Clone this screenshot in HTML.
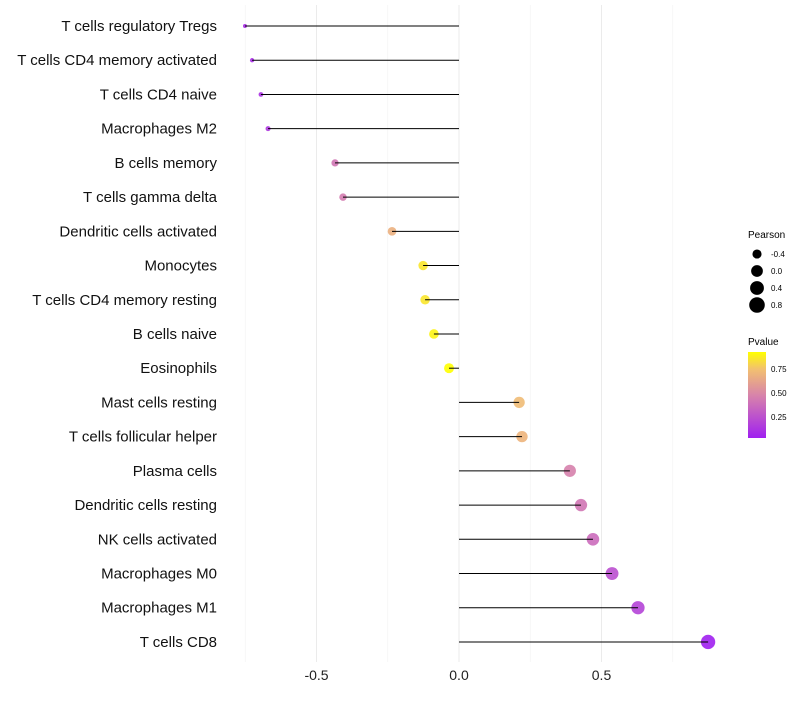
<!DOCTYPE html>
<html><head><meta charset="utf-8"><style>
body{margin:0;background:#fff;font-family:"Liberation Sans",sans-serif;}
</style></head><body>
<svg id="chart" width="800" height="700" xmlns="http://www.w3.org/2000/svg">
<g id="grid"></g>
<g id="marks"></g>
<g id="ylabels"></g>
<g id="xlabels"></g>
<g font-size="9">
<text x="748" y="238" font-size="10">Pearson</text>
<g id="sizeLegend"></g>
</g>
<g font-size="9">
<defs><linearGradient id="pg" x1="0" y1="1" x2="0" y2="0">
<stop offset="0" stop-color="#A020F0"/><stop offset="0.5" stop-color="#D884AA"/><stop offset="0.8" stop-color="#F2C070"/><stop offset="1" stop-color="#FFFF00"/></linearGradient></defs>
<text x="748" y="345" font-size="10">Pvalue</text>
<rect x="748" y="352" width="18" height="86" fill="url(#pg)"/>
<g id="pvTicks"></g>
</g>
</svg>
<script>
const categories=["T cells regulatory  Tregs","T cells CD4 memory activated","T cells CD4 naive","Macrophages M2","B cells memory","T cells gamma delta","Dendritic cells activated","Monocytes","T cells CD4 memory resting","B cells naive","Eosinophils","Mast cells resting","T cells follicular helper","Plasma cells","Dendritic cells resting","NK cells activated","Macrophages M0","Macrophages M1","T cells CD8"];
const pearson=[-0.751,-0.726,-0.695,-0.67,-0.435,-0.407,-0.235,-0.126,-0.119,-0.088,-0.035,0.211,0.221,0.389,0.428,0.47,0.537,0.628,0.874];
const pvalue=[0.1,0.1,0.12,0.15,0.42,0.45,0.68,0.86,0.86,0.9,0.93,0.73,0.7,0.47,0.42,0.38,0.25,0.2,0.04];
const xTicks=[-0.5,0,0.5];
const xTickLabels=["-0.5","0.0","0.5"];
const sizeLegendVals=[-0.4,0,0.4,0.8];
const pvTickVals=[0.25,0.5,0.75];
const NS="http://www.w3.org/2000/svg";
const X=v=>459+v*285;
const Y=i=>26+i*34.22;
const R=v=>Math.sqrt(4+29*Math.max(0,v+0.75));
const PY=p=>369+(0.75-p)*96;
function col(p){const t=Math.max(0,Math.min(1,(p-0.04)/0.89));
 const stops=[[0,[160,32,240]],[0.5,[216,132,170]],[0.8,[242,192,112]],[1,[255,255,0]]];
 for(let k=1;k<stops.length;k++){if(t<=stops[k][0]){const a=stops[k-1],b=stops[k];const f=(t-a[0])/(b[0]-a[0]);
 return 'rgb('+a[1].map((c,j)=>Math.round(c+(b[1][j]-c)*f)).join(',')+')';}}return 'rgb(255,255,0)';}
function mk(tag,attrs,parent){const e=document.createElementNS(NS,tag);for(const k in attrs)e.setAttribute(k,attrs[k]);parent.appendChild(e);return e;}
const grid=document.getElementById('grid'),marks=document.getElementById('marks'),yl=document.getElementById('ylabels'),xl=document.getElementById('xlabels');
[-0.75,-0.25,0.25,0.75].forEach(v=>{const l=mk('line',{x1:X(v),x2:X(v),y1:5,y2:662,stroke:'#f2f2f2','stroke-width':0.6},grid);

});
xTicks.forEach((v,i)=>{const l=mk('line',{x1:X(v),x2:X(v),y1:5,y2:662,stroke:'#ebebeb','stroke-width':1},grid);


const t=mk('text',{x:X(v),y:680,'text-anchor':'middle','font-size':14,fill:'#222'},xl);t.textContent=xTickLabels[i];

});
categories.forEach((c,i)=>{const y=Y(i);
const t=mk('text',{x:217,y:y+5,'text-anchor':'end','font-size':15,fill:'#111'},yl);t.textContent=c;


const pt=mk('circle',{cx:X(pearson[i]),cy:y,r:R(pearson[i]),fill:col(pvalue[i]),'fill-opacity':0.9},marks);


const ln=mk('line',{x1:X(0),x2:X(pearson[i]),y1:y,y2:y,stroke:'#000','stroke-width':1},marks);

});
const sl=document.getElementById('sizeLegend');
sizeLegendVals.forEach((v,i)=>{const y=254+i*17;
const c=mk('circle',{cx:757,cy:y,r:R(v)+0.8,fill:'#000'},sl);


const t=mk('text',{x:771,y:y+3,'font-size':8},sl);t.textContent=v===0?'0.0':String(v);

});
const pv=document.getElementById('pvTicks');
pvTickVals.forEach(v=>{const t=mk('text',{x:771,y:PY(v)+3,'font-size':8},pv);t.textContent=v.toFixed(2);

});
</script>
</body></html>
